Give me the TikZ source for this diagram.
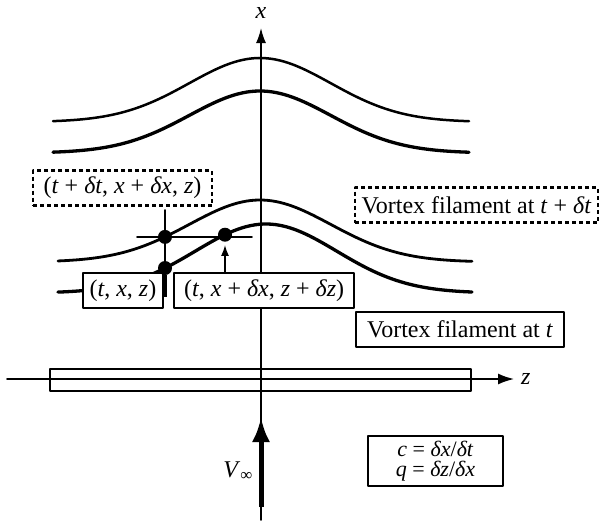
\documentclass[tikz,border=0pt]{standalone}
\usepackage{fontspec}
\setmainfont{Liberation Serif}
\usetikzlibrary{arrows.meta,positioning}
\newcommand{\vv}[1]{\textit{#1}}
\begin{document}
\begin{tikzpicture}[x=1pt,y=-1pt,>=Latex,line cap=round,line join=round]
\path[fill=white] (0,0) rectangle (601,523);
\tikzset{filament/.style={draw=black,line width=2.8pt},axis/.style={draw=black,line width=1.6pt},lbl/.style={font=\fontsize{24}{26}\selectfont,inner sep=0pt},tag/.style={draw=black,fill=white,line width=2.2pt,inner sep=0pt,minimum height=35pt,font=\fontsize{24}{26}\selectfont},dashtag/.style={tag,line cap=butt,dash pattern=on 4pt off 3pt},dot/.style={circle,fill=black,inner sep=0pt,minimum size=14pt}}
\draw[filament,line width=2.5pt] plot[domain=53:469,samples=100] (\x,{122-64*exp(-((\x-260)/100)*((\x-260)/100))});
\draw[filament,line width=3.3pt] plot[domain=53:469,samples=100] (\x,{153-62*exp(-((\x-260)/100)*((\x-260)/100))});
\draw[filament] plot[domain=58:472,samples=100] (\x,{262-62*exp(-((\x-260)/100)*((\x-260)/100))});
\draw[filament,line width=3.3pt] plot[domain=58:472,samples=100] (\x,{293-69*exp(-((\x-266)/100)*((\x-266)/100))});
\coordinate (xbot) at (261,520); \coordinate (xtop) at (261,28);
\draw[axis,-{Latex[length=15pt,width=10pt]}] (xbot) -- (xtop);
\node[lbl] (xlab) at (261,13) {\vv{x}};
\coordinate (zleft) at (7,379); \coordinate (zright) at (514,379);
\draw[axis,-{Latex[length=16pt,width=11pt]}] (zleft) -- (zright);
\node[lbl,right=7pt of zright] (zlab) {\vv{z}};
\node[draw=black,line width=2.2pt,minimum width=421pt,minimum height=22pt,inner sep=0pt] (tube) at (260.5,380) {};
\coordinate (vbot) at (261,507); \coordinate (vtip) at (261,417);
\draw[line width=5pt,line cap=butt,-{Latex[length=25pt,width=18pt]}] (vbot) -- (vtip);
\node[lbl] (vlab) at (238,471) {\vv{V}\textsubscript{∞}};
\node[dashtag,minimum width=179pt] (newtag) at (122.5,188) {(\vv{t} + \vv{δt}, \vv{x} + \vv{δx}, \vv{z})};
\node[dashtag,minimum width=243pt] (vnewtag) at (476.5,205) {Vortex filament at \vv{t} + \vv{δt}};
\node[tag,minimum width=80pt] (oldtag) at (123,290.5) {(\vv{t}, \vv{x}, \vv{z})};
\node[tag,minimum width=180pt,right=9pt of oldtag] (shifttag) {(\vv{t}, \vv{x} + \vv{δx}, \vv{z} + \vv{δz})};
\node[tag,minimum width=208pt] (voldtag) at (460,329.5) {Vortex filament at \vv{t}};
\node[tag,minimum width=135pt,minimum height=50pt,align=center,font=\fontsize{22}{20}\selectfont] (ratiotag) at (435.5,461) {\vv{c} = \vv{δx}/\vv{δt}\\\vv{q} = \vv{δz}/\vv{δx}};
\node[dot] (pnew) at (165,236.9) {}; \node[dot] (pold) at (165,268) {}; \node[dot] (pmid) at (225,234.7) {};
\coordinate (hleft) at (137,236.9); \coordinate (hright) at (252,236.9);
\coordinate (vtop) at (165,210); \coordinate (vlow) at (165,297);
\draw[axis] (hleft) -- (hright); \draw[axis] (vtop) -- (pold); \draw[line width=4.5pt,line cap=butt] (pold) -- (vlow);
\draw[axis,-{Latex[length=11pt,width=8pt]},shorten >=3pt] (shifttag.north -| pmid) -- (pmid.south);
\end{tikzpicture}
\end{document}
